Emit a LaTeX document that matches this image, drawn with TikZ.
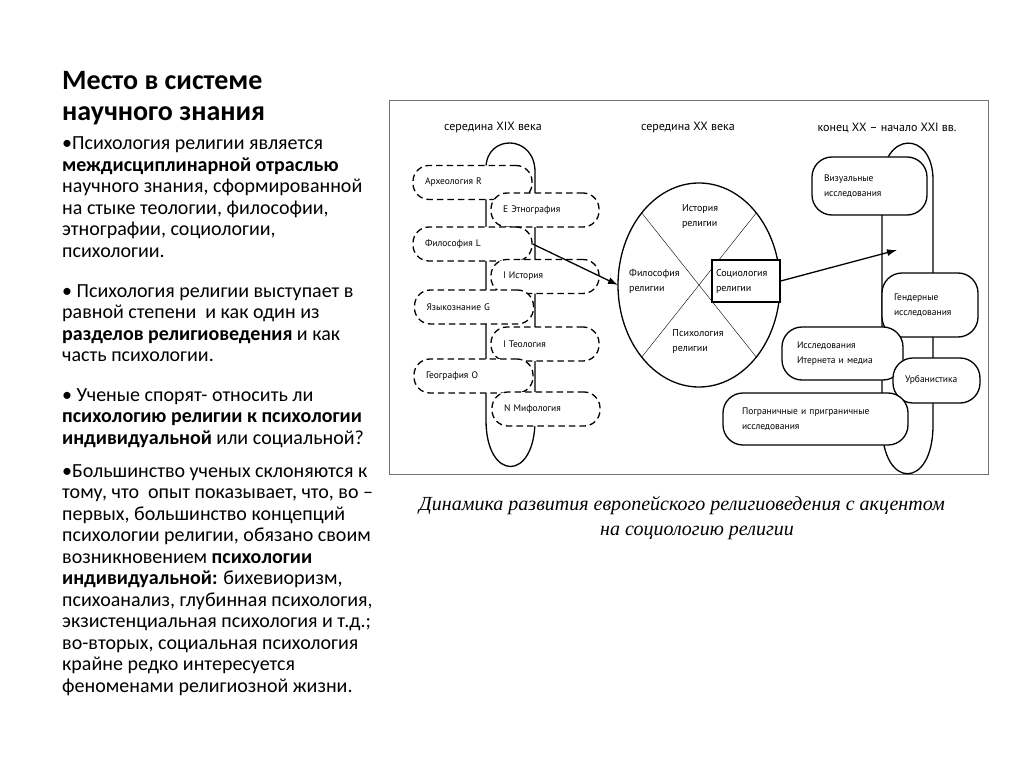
\documentclass[tikz,border=0pt]{standalone}
\usepackage{fontspec}
\setmainfont{Carlito}
\newfontfamily\diagfont{PT Sans}
\newfontfamily\capfont{Liberation Serif}
\usetikzlibrary{positioning,shapes.geometric,arrows.meta}
\tikzset{
  heading/.style={anchor=base west, inner sep=0, text width=340pt, align=flush left, font=\bfseries\fontsize{28}{31}\selectfont},
  para/.style={anchor=base west, inner sep=0, text width=340pt, align=flush left, font=\fontsize{20}{21.5}\selectfont},
  frame/.style={draw=black!55, line width=1pt},
  colhead/.style={font=\diagfont\fontsize{12}{14}\selectfont},
  dbox/.style={draw, fill=white, line width=1.3pt, dash pattern=on 6.5pt off 4pt, rounded corners=16pt, minimum height=34pt, inner xsep=12pt, align=left, font=\diagfont\fontsize{9.5}{12}\selectfont},
  leftbox/.style={dbox, text width=95pt},
  rightbox/.style={dbox, text width=84pt},
  rbox/.style={draw, fill=white, line width=1.3pt, rounded corners=20pt, inner xsep=12pt, align=left, font=\diagfont\fontsize{9.5}{15}\selectfont},
  lbl/.style={inner sep=0, align=left, font=\diagfont\fontsize{10}{15}\selectfont},
  loopline/.style={line width=1.3pt},
  arr/.style={line width=1.3pt, -{Latex[length=10pt, width=7pt]}},
  capt/.style={anchor=base, inner sep=0, font=\capfont\itshape\fontsize{20}{24}\selectfont}
}

\begin{document}
\begin{tikzpicture}[x=1pt, y=-1pt]
  \useasboundingbox (0,0) rectangle (1024,767);

  % left column text
  \node[heading] (title) at (62,90) {Место в системе\\научного знания};
  \node[para] (p1) at (62,150) {•Психология религии является\\\textbf{междисциплинарной отраслью}\\научного знания, сформированной\\на стыке теологии, философии,\\этнографии, социологии,\\психологии.};
  \node[para] (p2) at (62,297) {• Психология религии выступает в\\равной степени\ \ и как один из\\\textbf{разделов религиоведения} и как\\часть психологии.};
  \node[para] (p3) at (62,401) {• Ученые спорят- относить ли\\\textbf{психологию религии к психологии}\\\textbf{индивидуальной} или социальной?};
  \node[para] (p4) at (62,477) {•Большинство ученых склоняются к\\тому, что\ \ опыт показывает, что, во –\\первых, большинство концепций\\психологии религии, обязано своим\\возникновением \textbf{психологии}\\\textbf{индивидуальной:} бихевиоризм,\\психоанализ, глубинная психология,\\экзистенциальная психология и т.д.;\\во-вторых, социальная психология\\крайне редко интересуется\\феноменами религиозной жизни.};

  % diagram frame
  \draw[frame] (389,101) rectangle (988,474);
  \node[colhead] (h19) at (493,128) {середина XIX века};
  \node[colhead] (h20) at (688,128) {середина XX века};
  \node[colhead] (h21) at (887,128) {конец XX – начало XXI вв.};

  % middle of XIX century
  \draw[loopline] (486,168) .. controls (486,134) and (535,134) .. (535,172) -- (535,420)
    .. controls (535,482) and (486,482) .. (486,420) -- cycle;
  \node[leftbox] (arch) at (472.5,182.5) {Археология R};
  \node[rightbox] (ethno) at (545,210) {E Этнография};
  \node[leftbox] (phil) at (472.5,244) {Философия L};
  \node[rightbox] (hist) at (545,276.5) {I История};
  \node[leftbox] (ling) at (474,307) {Языкознание G};
  \node[rightbox] (theo) at (545,344) {I Теология};
  \node[leftbox] (geo) at (473.5,376) {География O};
  \node[rightbox] (myth) at (546,409) {N Мифология};

  % middle of XX century
  \node[ellipse, draw, line width=1.3pt, outer sep=0, minimum width=162pt, minimum height=204pt] (circ) at (699,285) {};
  \draw (circ.north west) -- (circ.south east);
  \draw (circ.north east) -- (circ.south west);
  \node[lbl] (relhist) at (700,216) {История\\религии};
  \node[lbl, anchor=west] (relphil) at (629,281) {Философия\\религии};
  \node[lbl] (relpsy) at (698,341) {Психология\\религии};
  \node[draw, fill=white, line width=1.3pt, minimum width=68pt, minimum height=42pt, inner xsep=4pt, text width=60pt, align=left, font=\diagfont\fontsize{10}{15}\selectfont] (soc) at (746,281) {Социология\\религии};

  % end of XX - beginning of XXI century
  \draw[loopline] (882,185) .. controls (882,130) and (933,130) .. (933,180) -- (933,425)
    .. controls (933,490) and (882,490) .. (882,425) -- cycle;
  \node[rbox, minimum width=115pt, minimum height=58pt, text width=91pt, inner xsep=8pt] (vis) at (869.5,186) {Визуальные\\исследования};
  \node[rbox, minimum width=96pt, minimum height=64pt, text width=72pt] (gend) at (930,305) {Гендерные\\исследования};
  \node[rbox, minimum width=121pt, minimum height=53pt, text width=91pt, inner xsep=15pt] (inet) at (842.5,353.5) {Исследования\\Итернета и медиа};
  \node[rbox, minimum width=87pt, minimum height=45pt, text width=63pt] (urb) at (936.5,380.5) {Урбанистика};
  \node[rbox, minimum width=185pt, minimum height=52pt, text width=147pt, inner xsep=19pt] (border) at (815.5,419) {Пограничные и приграничные\\исследования};
  \coordinate (tip) at (897,250);

  % arrows
  \draw[arr] (phil.east) -- (circ.west);
  \draw[arr] (soc.east) -- (tip);

  % caption
  \node[capt] (cap1) at (682,510) {Динамика развития европейского религиоведения с акцентом};
  \node[capt] (cap2) at (697,535) {на социологию религии};
\end{tikzpicture}
\end{document}
